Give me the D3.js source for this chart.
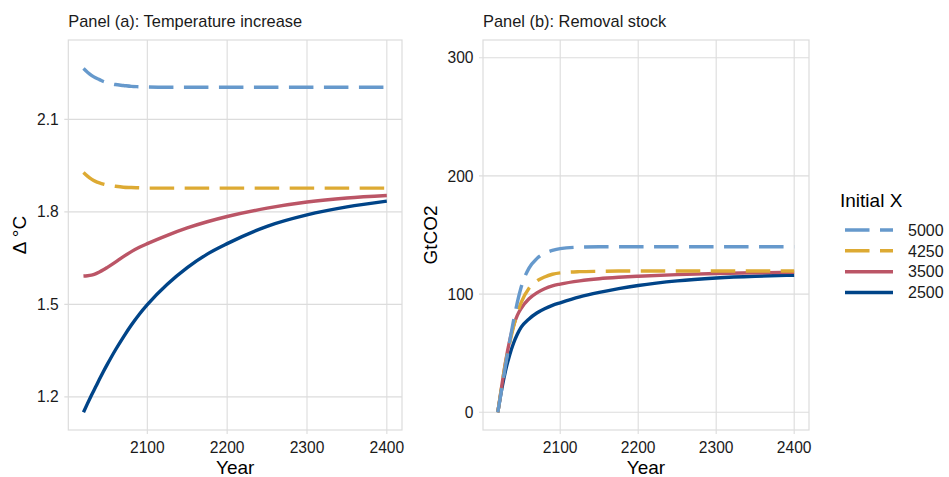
<!DOCTYPE html>
<html>
<head>
<meta charset="utf-8">
<script src="https://cdn.jsdelivr.net/npm/d3@7"></script>
<style>
  body { margin: 0; background: #fff; }
  svg { font-family: "Liberation Sans", Arial, sans-serif; }
</style>
</head>
<body>
<div id="body"></div>
<script>
// data
let years = [2020, 2025, 2030, 2035, 2040, 2045, 2050, 2060, 2070, 2080, 2090, 2100, 2125, 2150, 2175, 2200, 2250, 2300, 2350, 2400]

let groups = ["5000", "4250", "3500", "2500"]

let temp5000 = [2.265, 2.253, 2.243, 2.235, 2.229, 2.223, 2.219, 2.213, 2.210, 2.207, 2.206, 2.205, 2.204, 2.204, 2.204, 2.204, 2.204, 2.204, 2.204, 2.204]
let temp4250 = [1.928, 1.916, 1.906, 1.899, 1.894, 1.890, 1.887, 1.883, 1.880, 1.879, 1.878, 1.877, 1.877, 1.877, 1.877, 1.877, 1.877, 1.877, 1.877, 1.877]
let temp3500 = [1.592, 1.593, 1.595, 1.599, 1.605, 1.612, 1.620, 1.637, 1.655, 1.671, 1.685, 1.697, 1.724, 1.748, 1.768, 1.785, 1.812, 1.832, 1.845, 1.853]
let temp2500 = [1.150, 1.178, 1.205, 1.231, 1.257, 1.282, 1.306, 1.352, 1.394, 1.433, 1.468, 1.499, 1.565, 1.619, 1.663, 1.697, 1.753, 1.790, 1.816, 1.835]

let stock5000 = [0, 20, 40, 59, 77, 93, 106, 122, 130, 134.5, 137, 138.5, 139.7, 140, 140, 140, 140, 140, 140, 140]
let stock4250 = [0, 22, 42, 58, 72, 84, 93, 105, 111, 114.5, 116.8, 118, 119, 119.3, 119.5, 119.5, 119.5, 119.5, 119.5, 119.5]
let stock3500 = [0, 22, 43, 60, 73, 82, 88, 96, 101, 104.5, 107, 108.5, 111.2, 113, 114.2, 115.1, 116.5, 117.4, 118, 118.5]
let stock2500 = [0, 19.5, 35.5, 48, 58.2, 66, 72, 79, 84, 87.6, 90.4, 92.6, 97.6, 101.4, 104.6, 107.3, 111.2, 113.6, 115.1, 116]

let xTicks = [2100, 2200, 2300, 2400]
let tempTicks = [1.2, 1.5, 1.8, 2.1]
let stockTicks = [0, 100, 200, 300]

let colors = { "5000": "#6699CC", "4250": "#DDAA33", "3500": "#BB5566", "2500": "#004488" }
let dashes = { "5000": "24.5,10.5", "4250": "24.5,10.5", "3500": null, "2500": null }

let tempSeries = { "5000": temp5000, "4250": temp4250, "3500": temp3500, "2500": temp2500 }
let stockSeries = { "5000": stock5000, "4250": stock4250, "3500": stock3500, "2500": stock2500 }

let gridColor = "#dcdcdc"

let svg = d3.select("#body")
  .append("svg")
  .attr("width", 949)
  .attr("height", 477)

// ggplot-like 5% expansion
function expand(lo, hi) {
  let pad = (hi - lo) * 0.05
  return [lo - pad, hi + pad]
}

function drawPanel(opts) {
  let x = d3.scaleLinear()
    .domain(expand(2020, 2400))
    .range([opts.left, opts.right])
  let y = d3.scaleLinear()
    .domain(expand(opts.yMin, opts.yMax))
    .range([opts.bottom, opts.top])

  let g = svg.append("g")

  // grid
  g.selectAll(".vgrid")
    .data(xTicks)
    .enter()
    .append("line")
    .attr("x1", d => x(d)).attr("x2", d => x(d))
    .attr("y1", opts.top).attr("y2", opts.bottom + 4)
    .attr("stroke", gridColor)
    .attr("stroke-width", 1.1)
  g.selectAll(".hgrid")
    .data(opts.yTicks)
    .enter()
    .append("line")
    .attr("x1", opts.left - 4).attr("x2", opts.right)
    .attr("y1", d => y(d)).attr("y2", d => y(d))
    .attr("stroke", gridColor)
    .attr("stroke-width", 1.1)

  g.append("rect")
    .attr("x", opts.left).attr("y", opts.top)
    .attr("width", opts.right - opts.left)
    .attr("height", opts.bottom - opts.top)
    .attr("fill", "none")
    .attr("stroke", gridColor)
    .attr("stroke-width", 1.2)

  // tick labels
  g.selectAll(".xlab")
    .data(xTicks)
    .enter()
    .append("text")
    .attr("x", d => x(d))
    .attr("y", 452.5)
    .attr("text-anchor", "middle")
    .style("font-size", "15.6px")
    .attr("fill", "#1a1a1a")
    .text(d => d)
  g.selectAll(".ylab")
    .data(opts.yTicks)
    .enter()
    .append("text")
    .attr("x", opts.left - 9.5)
    .attr("y", d => y(d))
    .attr("dy", "0.36em")
    .attr("text-anchor", "end")
    .style("font-size", "15.6px")
    .attr("fill", "#1a1a1a")
    .text(d => opts.fmt(d))

  // titles
  g.append("text")
    .attr("x", opts.left)
    .attr("y", 26.5)
    .style("font-size", "16.4px")
    .attr("fill", "#1a1a1a")
    .text(opts.title)
  g.append("text")
    .attr("x", (opts.left + opts.right) / 2)
    .attr("y", 474)
    .attr("text-anchor", "middle")
    .style("font-size", "19px")
    .text("Year")
  g.append("text")
    .attr("transform", "translate(" + opts.yTitleX + "," + ((opts.top + opts.bottom) / 2) + ") rotate(-90)")
    .attr("text-anchor", "middle")
    .style("font-size", "19px")
    .text(opts.yTitle)

  // lines
  let line = d3.line()
    .x(d => x(d[0]))
    .y(d => y(d[1]))
    .curve(d3.curveMonotoneX)

  groups.slice().reverse().forEach(function (k) {
    let pts = years.map((yr, i) => [yr, opts.series[k][i]])
    g.append("path")
      .datum(pts)
      .attr("d", line)
      .attr("fill", "none")
      .attr("stroke", colors[k])
      .attr("stroke-width", 3.4)
      .attr("stroke-dasharray", dashes[k])
  })
}

drawPanel({
  left: 68.3, right: 402, top: 40, bottom: 430,
  yMin: 1.15, yMax: 2.3, yTicks: tempTicks,
  fmt: d3.format(".1f"),
  series: tempSeries,
  title: "Panel (a): Temperature increase",
  yTitle: "\u0394 \u00B0C",
  yTitleX: 25.5
})

drawPanel({
  left: 483, right: 809, top: 40, bottom: 430,
  yMin: 0, yMax: 300, yTicks: stockTicks,
  fmt: d => d,
  series: stockSeries,
  title: "Panel (b): Removal stock",
  yTitle: "GtCO2",
  yTitleX: 437
})

// legend
let legend = svg.append("g")
legend.append("text")
  .attr("x", 840)
  .attr("y", 207)
  .style("font-size", "19px")
  .text("Initial X")

let rowY = d3.scaleBand()
  .domain(groups)
  .range([219.5, 303])

let rows = legend.selectAll(".row")
  .data(groups)
  .enter()
  .append("g")
  .attr("transform", d => "translate(0," + (rowY(d) + rowY.bandwidth() / 2) + ")")
rows.append("line")
  .attr("x1", 845).attr("x2", 893)
  .attr("stroke", d => colors[d])
  .attr("stroke-width", 3.4)
  .attr("stroke-dasharray", d => dashes[d])
rows.append("text")
  .attr("x", 908)
  .attr("dy", "0.36em")
  .style("font-size", "16px")
  .attr("fill", "#1a1a1a")
  .text(d => d)
</script>
</body>
</html>
